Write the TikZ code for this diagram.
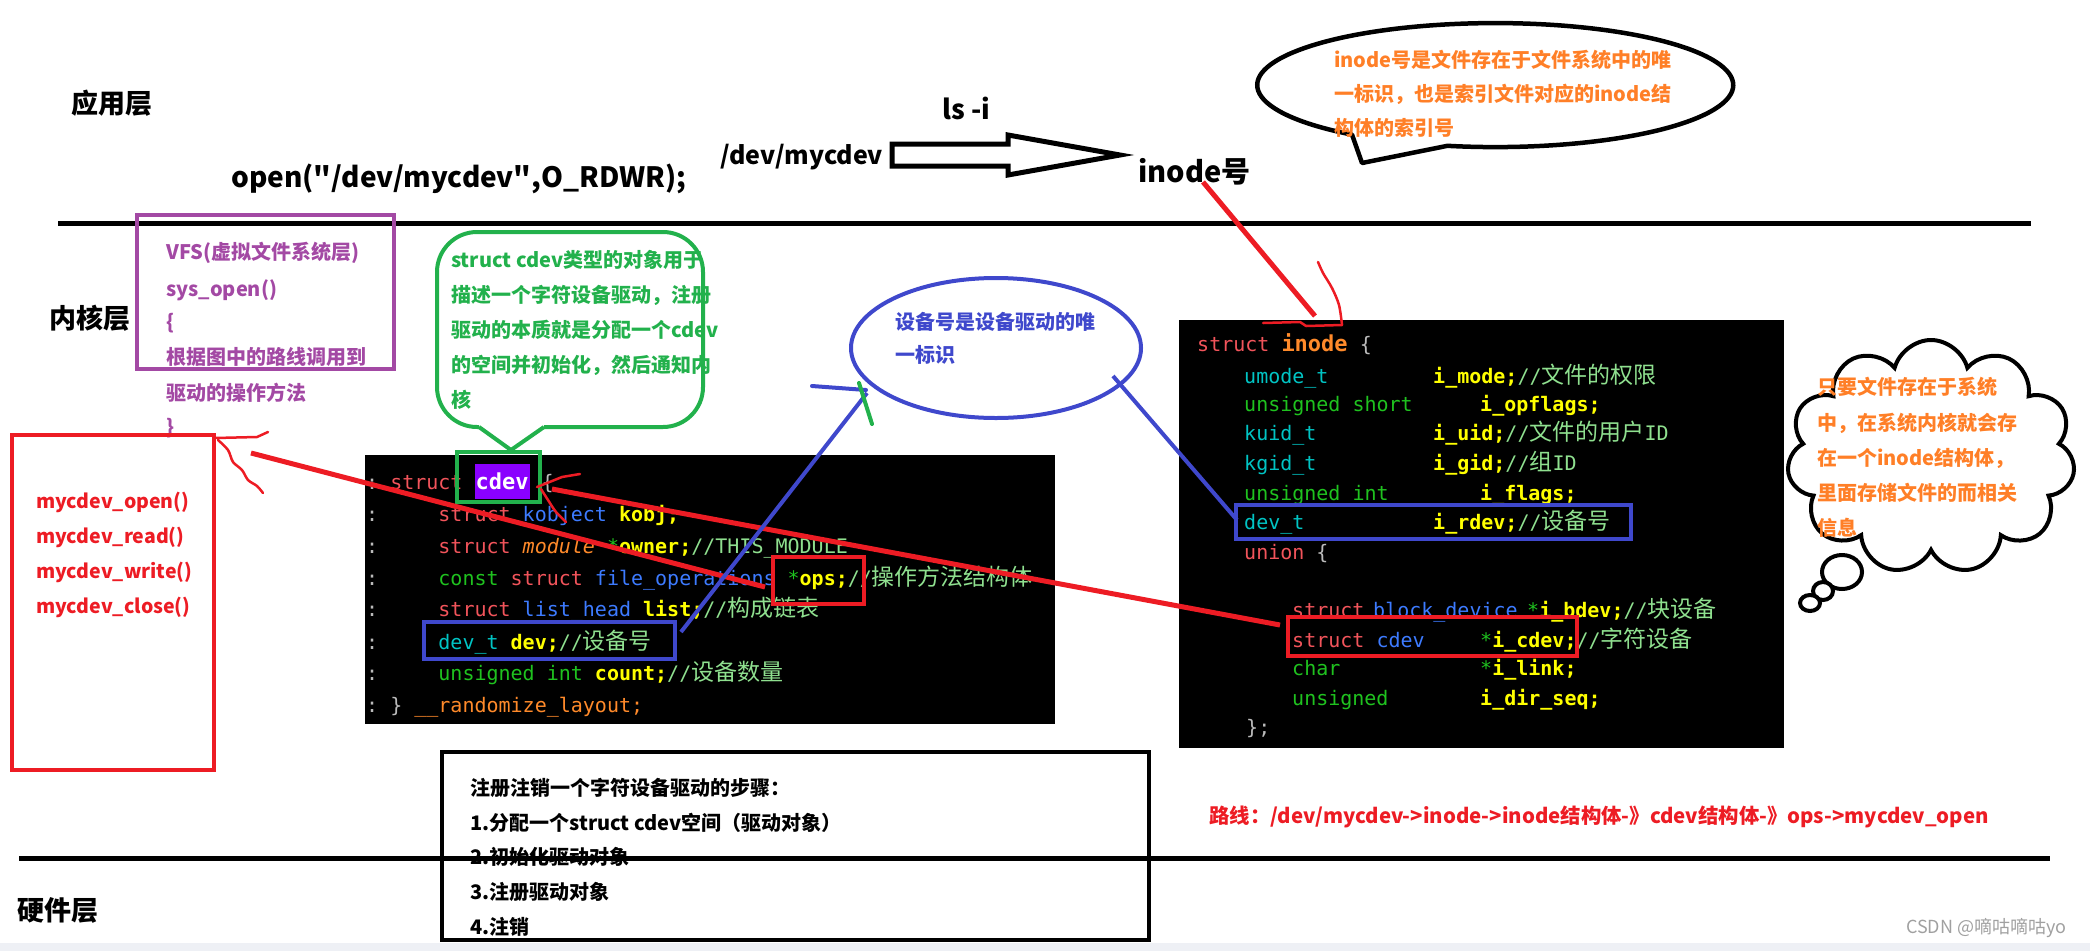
\documentclass[tikz,border=0pt]{standalone}
\usepackage{fontspec}
\setmainfont{Noto Sans CJK SC}
\newfontfamily\mono{DejaVu Sans Mono}
\newfontfamily\cjkr{Noto Sans CJK SC}
\usetikzlibrary{shapes.symbols}

\definecolor{ppl}{HTML}{A349A4}
\definecolor{rd}{HTML}{ED1C24}
\definecolor{gr}{HTML}{22B14C}
\definecolor{bl}{HTML}{3F48CC}
\definecolor{org}{HTML}{FF7F27}
\definecolor{ckw}{HTML}{F2545B}
\definecolor{cty}{HTML}{3D7BFF}
\definecolor{cid}{HTML}{FFFF00}
\definecolor{cgn}{HTML}{1FC21F}
\definecolor{ccm}{HTML}{8FE08F}
\definecolor{ccy}{HTML}{00C4C4}
\definecolor{cor}{HTML}{FF8A2A}
\definecolor{cgy}{HTML}{BBBBBB}
\definecolor{hl}{HTML}{8A00FF}
\definecolor{strip}{HTML}{EEF0F5}
\definecolor{wm}{HTML}{A0A0A0}

\newcommand\kw[1]{\textcolor{ckw}{#1}}
\newcommand\ty[1]{\textcolor{cty}{#1}}
\newcommand\idf[1]{\textcolor{cid}{\bfseries #1}}
\newcommand\gn[1]{\textcolor{cgn}{#1}}
\newcommand\cmt[1]{\textcolor{ccm}{#1}}
\newcommand\cy[1]{\textcolor{ccy}{#1}}
\newcommand\orn[1]{\textcolor{cor}{#1}}
\newcommand\gy[1]{\textcolor{cgy}{#1}}
\newcommand\zhc[1]{{\cjkr\fontsize{23}{23}\selectfont\textcolor{ccm}{#1}}}
\newcommand\sq{\XeTeXglyph\XeTeXcharglyph"22\relax}

\tikzset{
  txt/.style={anchor=west, inner sep=0, font=\bfseries\fontsize{20}{24}\selectfont},
  code/.style={anchor=base west, inner sep=0, font=\mono\fontsize{20}{24}\selectfont},
  layer/.style={anchor=west, inner sep=0, font=\bfseries\fontsize{27}{30}\selectfont},
  fn/.style={txt, text=rd, font=\bfseries\fontsize{19.5}{24}\selectfont},
  thickred/.style={rd, line width=5},
  thinred/.style={rd, line width=2.5, line cap=round, line join=round},
}

\begin{document}
\begin{tikzpicture}[x=1pt, y=-1pt]
\useasboundingbox (0,0) rectangle (2090,951);
\fill[strip] (0,943) rectangle (2090,951);

% ---------- layer labels ----------
\node[layer] (app) at (71,103) {应用层};
\node[layer] (kern) at (49,318) {内核层};
\node[layer] (hw) at (17,910) {硬件层};

% ---------- application layer ----------
\node[anchor=west, inner sep=0, font=\bfseries\fontsize{28}{30}\selectfont] (open) at (231,179) {open(\sq/dev/mycdev\sq,O\_RDWR);};
\node[anchor=west, inner sep=0, font=\bfseries\fontsize{25}{28}\selectfont] (devpath) at (720,157) {/dev/mycdev};
\node[anchor=west, inner sep=0, font=\bfseries\fontsize{27}{30}\selectfont] (lsi) at (942,108) {ls -i};
\node[anchor=west, inner sep=0, font=\bfseries\fontsize{29}{32}\selectfont] (inodeno) at (1138,172) {inode号};
\draw[line width=5, line join=miter] (892,144) -- (1008,144) -- (1008,135) -- (1120,155) -- (1008,175) -- (1008,166) -- (892,166) -- cycle;

% black speech ellipse
\draw[line width=4.5, line join=round] (1352,134.6) arc[start angle=127, end angle=461.6, x radius=238, y radius=62] -- (1362,163) -- cycle;
\node[txt, text=org] (n1) at (1334,60) {inode号是文件存在于文件系统中的唯};
\node[txt, text=org] (n2) at (1334,94) {一标识，也是索引文件对应的inode结};
\node[txt, text=org] (n3) at (1334,128) {构体的索引号};

% ---------- code box: struct cdev ----------
\fill[black] (365,455) rectangle (1055,724);
\setlength\fboxsep{1pt}
\node[code] (c1) at (366,489) {\gy{:}~\kw{struct}~\colorbox{hl}{\rule[-9pt]{0pt}{33pt}\textcolor{white}{\bfseries\fontsize{22}{22}\selectfont cdev}}~\gy{\{}};
\node[code] (c2) at (366,521) {\gy{:}~~~~~\kw{struct}~\ty{kobject}~\idf{kobj;}};
\node[code] (c3) at (366,553) {\gy{:}~~~~~\kw{struct}~\orn{\itshape module}~\gn{*}\idf{owner;}\cmt{//THIS\_MODULE}};
\node[code] (c4) at (366,585) {\gy{:}~~~~~\gn{const}~\kw{struct}~\ty{file\_operations}~\gn{*}\idf{ops;}\cmt{//}\zhc{操作方法结构体}};
\node[code] (c5) at (366,616) {\gy{:}~~~~~\kw{struct}~\ty{list\_head}~\idf{list;}\cmt{//}\zhc{构成链表}};
\node[code] (c6) at (366,649) {\gy{:}~~~~~\cy{dev\_t}~\idf{dev;}\cmt{//}\zhc{设备号}};
\node[code] (c7) at (366,680) {\gy{:}~~~~~\gn{unsigned~int}~\idf{count;}\cmt{//}\zhc{设备数量}};
\node[code] (c8) at (366,712) {\gy{:}~\gy{\}}~\orn{\_\_randomize\_layout;}};

\draw[gr, line width=4] (457,452) rectangle (540,502);
\draw[rd, line width=4] (773,557) rectangle (864,604);
\draw[bl, line width=4] (424,622) rectangle (675,659);

% ---------- code box: struct inode ----------
\fill[black] (1179,320) rectangle (1784,748);
\node[code] (r1) at (1197,351) {\kw{struct}~{\bfseries\fontsize{22}{22}\selectfont\orn{inode}}~\gy{\{}};
\node[code] (r2a) at (1244,383) {\cy{umode\_t}};
\node[code] (r2b) at (1433,383) {\idf{i\_mode;}\cmt{//}\zhc{文件的权限}};
\node[code] (r3a) at (1244,411) {\gn{unsigned~short}};
\node[code] (r3b) at (1480,411) {\idf{i\_opflags;}};
\node[code] (r4a) at (1244,440) {\cy{kuid\_t}};
\node[code] (r4b) at (1433,440) {\idf{i\_uid;}\cmt{//}\zhc{文件的用户}\cmt{ID}};
\node[code] (r5a) at (1244,470) {\cy{kgid\_t}};
\node[code] (r5b) at (1433,470) {\idf{i\_gid;}\cmt{//}\zhc{组}\cmt{ID}};
\node[code] (r6a) at (1244,500) {\gn{unsigned~int}};
\node[code] (r6b) at (1480,500) {\idf{i\_flags;}};
\node[code] (r7a) at (1244,529) {\cy{dev\_t}};
\node[code] (r7b) at (1433,529) {\idf{i\_rdev;}\cmt{//}\zhc{设备号}};
\node[code] (r8) at (1244,559) {\kw{union}~\gy{\{}};
\node[code] (r9a) at (1292,617) {\kw{struct}};
\node[code] (r9b) at (1373,617) {\ty{block\_device}};
\node[code] (r9c) at (1527,617) {\gn{*}\idf{i\_bdev;}\cmt{//}\zhc{块设备}};
\node[code] (r10a) at (1292,647) {\kw{struct}~\ty{cdev}};
\node[code] (r10b) at (1480,647) {\gn{*}\idf{i\_cdev;}\cmt{//}\zhc{字符设备}};
\node[code] (r11a) at (1292,675) {\gn{char}};
\node[code] (r11b) at (1480,675) {\gn{*}\idf{i\_link;}};
\node[code] (r12a) at (1292,705) {\gn{unsigned}};
\node[code] (r12b) at (1480,705) {\idf{i\_dir\_seq;}};
\node[code] (r13) at (1246,734) {\gy{\};}};

\draw[bl, line width=4] (1236,505) rectangle (1631,539);
\draw[rd, line width=4] (1288,617) rectangle (1577,656);

% ---------- horizontal separators ----------
\draw[line width=5] (58,223) -- (2031,223);

% ---------- VFS purple ----------
\draw[ppl, line width=4] (137,215) rectangle (394,369);
\node[txt, text=ppl] (v1) at (166,253) {VFS(虚拟文件系统层)};
\node[txt, text=ppl] (v2) at (166,290) {sys\_open()};
\node[txt, text=ppl] (v3) at (166,323) {\{};
\node[txt, text=ppl] (v4) at (166,357) {根据图中的路线调用到};
\node[txt, text=ppl] (v5) at (166,393) {驱动的操作方法};
\node[txt, text=ppl] (v6) at (166,428) {\}};

% ---------- green bubble ----------
\draw[gr, line width=4, rounded corners=40] (479,427) -- (437,427) -- (437,232) -- (703,232) -- (703,427) -- (544,427);
\draw[gr, line width=4, line join=miter] (479,427) -- (511,450) -- (544,427);
\node[txt, text=gr] (g1) at (451,260) {struct cdev类型的对象用于};
\node[txt, text=gr] (g2) at (451,295) {描述一个字符设备驱动，注册};
\node[txt, text=gr] (g3) at (451,330) {驱动的本质就是分配一个cdev};
\node[txt, text=gr] (g4) at (451,365) {的空间并初始化，然后通知内};
\node[txt, text=gr] (g5) at (451,400) {核};

% ---------- red function box ----------
\draw[rd, line width=4] (12,435) rectangle (214,770);
\node[fn] (f1) at (36,502) {mycdev\_open()};
\node[fn] (f2) at (36,537) {mycdev\_read()};
\node[fn] (f3) at (36,572) {mycdev\_write()};
\node[fn] (f4) at (36,607) {mycdev\_close()};

% ---------- blue ellipse ----------
\draw[bl, line width=4] (996,348) ellipse[x radius=145, y radius=70];
\node[txt, text=bl] (b1) at (895,322) {设备号是设备驱动的唯};
\node[txt, text=bl] (b2) at (895,355) {一标识};

% ---------- cloud ----------
\node[cloud, draw, line width=4, cloud puffs=11, cloud ignores aspect, minimum width=288, minimum height=234, inner sep=0] (cloud) at (1931,457) {};
\draw[line width=4, fill=white] (1842,572) ellipse[x radius=20, y radius=17];
\draw[line width=4, fill=white] (1823,591) ellipse[x radius=10, y radius=9];
\draw[line width=4, fill=white] (1810,603) ellipse[x radius=10, y radius=8];
\node[txt, text=org] (k1) at (1817,387) {只要文件存在于系统};
\node[txt, text=org] (k2) at (1817,423) {中，在系统内核就会存};
\node[txt, text=org] (k3) at (1817,458) {在一个inode结构体，};
\node[txt, text=org] (k4) at (1817,493) {里面存储文件的而相关};
\node[txt, text=org] (k5) at (1817,528) {信息};

% ---------- bottom steps box ----------
\draw[line width=4.5] (442,752) rectangle (1149,940);
\node[txt] (s0) at (470,788) {注册注销一个字符设备驱动的步骤：};
\node[txt] (s1) at (470,823) {1.分配一个struct cdev空间（驱动对象）};
\node[txt] (s2) at (470,857) {2.初始化驱动对象};
\node[txt] (s3) at (470,892) {3.注册驱动对象};
\node[txt] (s4) at (470,927) {4.注销};

\draw[line width=5] (19,858) -- (2050,858);

% route
\node[txt, text=rd, font=\bfseries\fontsize{20.4}{24}\selectfont] (route) at (1209,817) {路线：/dev/mycdev->inode->inode结构体-》cdev结构体-》ops->mycdev\_open};

% watermark
\node[anchor=west, inner sep=0, text=wm, font=\fontsize{18}{20}\selectfont] (wmark) at (1906,928) {CSDN @嘀咕嘀咕yo};

% ---------- hand-drawn connectors ----------
\coordinate (fa) at (251,453);
\coordinate (opsend) at (765,587);
\coordinate (cdevbrace) at (552,489);
\coordinate (icdev) at (1280,625);
\coordinate (inodenoend) at (1203,182);
\coordinate (inodehead) at (1315,316);
\coordinate (devbox) at (681,632);
\coordinate (ellll) at (867,393);
\coordinate (ellrr) at (1113,376);
\coordinate (rdevbox) at (1237,520);

\draw[thickred] (fa) -- (opsend);
\draw[thickred] (cdevbrace) -- (icdev);
\draw[thickred] (inodenoend) -- (inodehead);
\draw[bl, line width=4] (devbox) -- (ellll);
\draw[bl, line width=4, line cap=round] (812,386) -- (866,390);
\draw[gr, line width=4, line cap=round] (859,383) -- (872,424);
\draw[bl, line width=4] (ellrr) -- (rdevbox);

% small red scribbles
\draw[thinred] (215,438) -- (257,437) -- (268,432);
\draw[thinred] plot[smooth] coordinates {(218,440) (228,450) (233,462) (242,470) (248,480) (257,486) (263,493)};
\draw[thinred] (537,487) -- (562,477) -- (580,474);
\draw[thinred] plot[smooth] coordinates {(541,489) (548,500) (556,512) (566,522)};
\draw[thinred] (1263,323) -- (1300,322) -- (1306,326) -- (1342,325);
\draw[thinred] plot[smooth] coordinates {(1342,325) (1339,305) (1332,288) (1323,273) (1318,262)};
\end{tikzpicture}
\end{document}
